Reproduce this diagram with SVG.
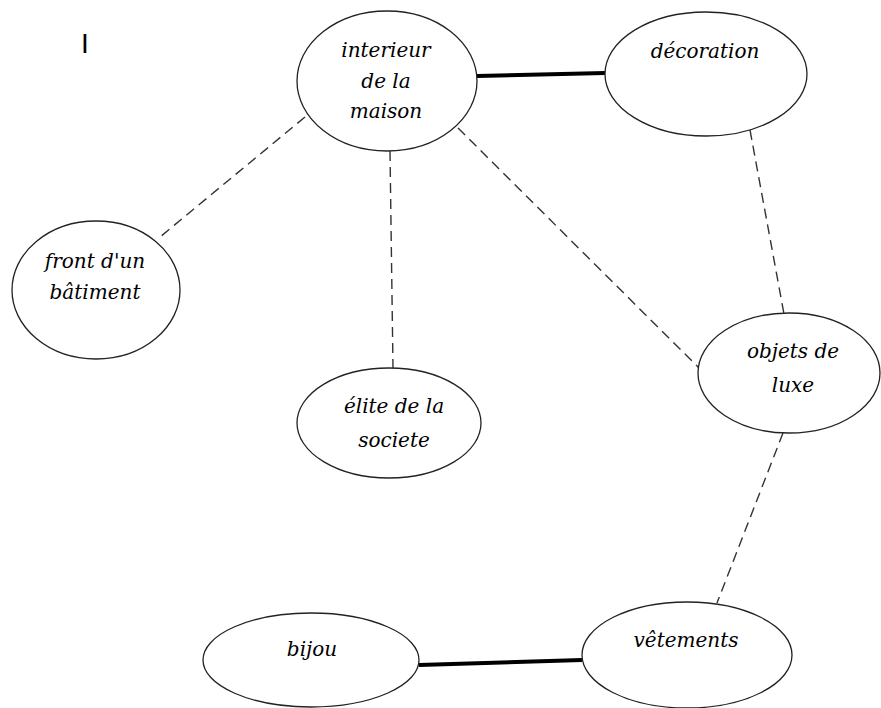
<svg xmlns="http://www.w3.org/2000/svg" width="881" height="708" viewBox="0 0 881 708">
<style>
.n{fill:#fff;stroke:#222;stroke-width:1.3}
.t{font-family:"DejaVu Serif","Liberation Serif",serif;font-style:italic;font-size:20px;fill:#000;text-anchor:middle}
.d{stroke:#333;stroke-width:1.4;stroke-dasharray:10 6;fill:none}
.s{stroke:#000;stroke-width:4;fill:none}
</style>
<rect width="881" height="708" fill="#fff"/>
<text x="85" y="53" font-family="Liberation Sans,Arial,sans-serif" font-size="28" text-anchor="middle">I</text>
<g id="connectors">
<line class="s" x1="477" y1="76" x2="605" y2="73"/>
<line class="s" x1="419" y1="665" x2="582" y2="660"/>
<line class="d" x1="305" y1="117" x2="160" y2="237"/>
<line class="d" x1="390" y1="151" x2="393" y2="368"/>
<line class="d" x1="458" y1="128" x2="699" y2="368"/>
<line class="d" x1="750" y1="130" x2="784" y2="314"/>
<line class="d" x1="783" y1="433" x2="717" y2="603"/>
</g>
<g id="interieur">
<ellipse class="n" cx="387" cy="81" rx="90" ry="70"/>
<text class="t" x="386" y="57">interieur</text>
<text class="t" x="386" y="88">de la</text>
<text class="t" x="386" y="118">maison</text>
</g>
<g id="decoration">
<ellipse class="n" cx="706" cy="74" rx="101" ry="62"/>
<text class="t" x="705" y="58">décoration</text>
</g>
<g id="front">
<ellipse class="n" cx="96" cy="290" rx="84" ry="69"/>
<text class="t" x="95" y="268">front d'un</text>
<text class="t" x="95" y="299">bâtiment</text>
</g>
<g id="elite">
<ellipse class="n" cx="389" cy="423" rx="92" ry="55"/>
<text class="t" x="394" y="413">élite de la</text>
<text class="t" x="394" y="447">societe</text>
</g>
<g id="objets">
<ellipse class="n" cx="789" cy="373" rx="91" ry="60"/>
<text class="t" x="793" y="358">objets de</text>
<text class="t" x="793" y="392">luxe</text>
</g>
<g id="bijou">
<ellipse class="n" cx="311" cy="660" rx="108" ry="47"/>
<text class="t" x="312" y="656">bijou</text>
</g>
<g id="vetements">
<ellipse class="n" cx="687" cy="655" rx="105" ry="53"/>
<text class="t" x="686" y="647">vêtements</text>
</g>
</svg>
